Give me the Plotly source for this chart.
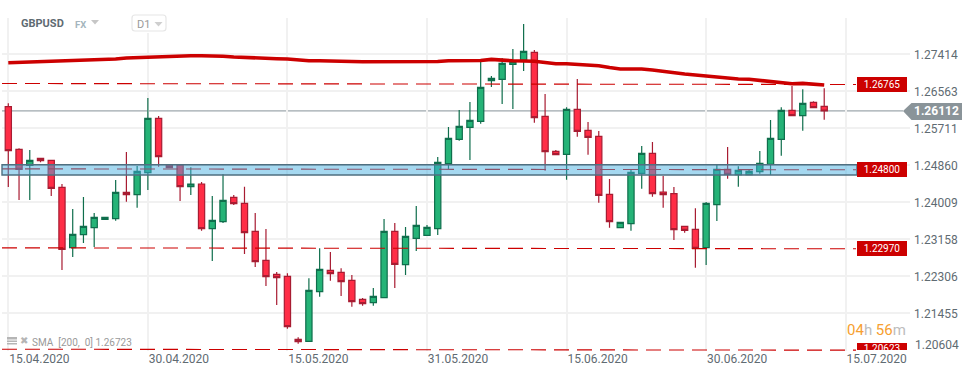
import plotly.graph_objects as go

bar_index = list(range(77))
# direction is implied by open/close
open_ = [1.26209,1.25229,1.24861,1.25022,1.24976,1.24355,1.22966,1.23265,1.23426,1.23619,1.23633,1.2424,1.24185,1.24691,1.25942,1.24868,1.24868,1.24369,1.24431,1.23403,1.23564,1.24125,1.23987,1.23343,1.22676,1.22354,1.22308,1.20859,1.20813,1.21954,1.22446,1.224,1.22216,1.21779,1.21701,1.21816,1.23343,1.22575,1.23182,1.23251,1.23403,1.24898,1.25459,1.25735,1.25873,1.26807,1.26839,1.27184,1.27283,1.2746,1.25988,1.25183,1.25114,1.26149,1.25666,1.25528,1.24194,1.23426,1.23518,1.24677,1.25137,1.24247,1.24208,1.23458,1.23389,1.22966,1.23955,1.24769,1.24645,1.24645,1.24714,1.24884,1.25459,1.26126,1.26002,1.2631,1.26218]
high = [1.26287,1.25252,1.25213,1.25029,1.24983,1.24431,1.23856,1.24132,1.23764,1.23665,1.24523,1.25167,1.24845,1.26409,1.25995,1.24868,1.24868,1.24815,1.24477,1.24155,1.24661,1.24178,1.24369,1.23764,1.23396,1.22407,1.22377,1.20905,1.22262,1.22952,1.22867,1.22492,1.22338,1.21809,1.22039,1.23626,1.23534,1.23442,1.23925,1.23488,1.25052,1.25742,1.26133,1.26317,1.27244,1.26915,1.27329,1.27536,1.28111,1.27513,1.26501,1.25213,1.26195,1.26846,1.25857,1.2565,1.24546,1.2355,1.24753,1.25305,1.25397,1.24615,1.24362,1.23458,1.23872,1.24017,1.24868,1.25282,1.24838,1.24753,1.2519,1.25903,1.26195,1.26685,1.26609,1.26333,1.26632]
low = [1.24362,1.24063,1.24063,1.2493,1.24155,1.22453,1.22752,1.23074,1.22982,1.23619,1.23587,1.24024,1.23886,1.24293,1.24829,1.24806,1.2404,1.24178,1.23357,1.2266,1.23534,1.23948,1.22821,1.22522,1.22085,1.21648,1.21103,1.20758,1.20813,1.21839,1.22207,1.21855,1.21609,1.21632,1.21632,1.21816,1.22039,1.22338,1.2289,1.23251,1.23258,1.24776,1.25427,1.24983,1.25818,1.26662,1.26271,1.26156,1.2703,1.25841,1.24737,1.25105,1.2453,1.25519,1.25105,1.24001,1.23426,1.23426,1.23357,1.24323,1.24139,1.23886,1.23143,1.23311,1.22506,1.22568,1.2358,1.24553,1.24369,1.24645,1.24668,1.24638,1.25082,1.26002,1.25657,1.26186,1.2591]
close = [1.25197,1.24769,1.24976,1.24967,1.24332,1.22929,1.23274,1.23458,1.23665,1.23665,1.2424,1.24185,1.24723,1.25942,1.25059,1.24806,1.24369,1.24431,1.23403,1.23596,1.24056,1.23978,1.23311,1.22644,1.22299,1.22276,1.21149,1.20804,1.21986,1.22469,1.22368,1.22184,1.21724,1.21678,1.21848,1.23343,1.22584,1.23228,1.23481,1.23435,1.2493,1.25482,1.25758,1.25896,1.26655,1.26862,1.27207,1.27244,1.27483,1.25956,1.25174,1.25105,1.26149,1.25643,1.25505,1.24171,1.23564,1.2355,1.247,1.25137,1.24208,1.24185,1.2338,1.23366,1.22952,1.23987,1.24769,1.24654,1.24746,1.24723,1.24907,1.25482,1.26126,1.26002,1.26287,1.26186,1.2611]
sma_200 = [1.27221,1.2723,1.27244,1.27244,1.27244,1.2726,1.27265,1.27271,1.27283,1.27294,1.27306,1.27329,1.2734,1.27352,1.27357,1.27361,1.2738,1.27382,1.27382,1.27382,1.27368,1.27352,1.27347,1.27343,1.27329,1.27313,1.27306,1.27283,1.27267,1.27267,1.27267,1.2726,1.27248,1.27244,1.27244,1.27244,1.27244,1.27244,1.27244,1.27244,1.27248,1.27267,1.27267,1.27267,1.27271,1.27297,1.27271,1.27265,1.2726,1.27253,1.27225,1.27198,1.27198,1.27179,1.27152,1.27152,1.2711,1.27076,1.27076,1.27076,1.27053,1.27018,1.26984,1.26961,1.26938,1.26915,1.26892,1.26857,1.26846,1.26839,1.26811,1.26777,1.26754,1.26738,1.26745,1.26731,1.26708]

price_ticks = [1.27414,1.26563,1.25711,1.24860,1.24009,1.23158,1.22306,1.21455,1.20604]
price_labels = ["1.27414","1.26563","1.25711","1.24860","1.24009","1.23158","1.22306","1.21455",""]
date_ticks = [0,13,26,39,52,65,78]
date_labels = ["15.04.2020","30.04.2020","15.05.2020","31.05.2020","15.06.2020","30.06.2020","15.07.2020"]

level_plot = [1.26731,1.24769,1.22952,1.20620]
level_labels = ["1.26765","1.24800","1.22970","1.20623"]
zone_top, zone_bottom = 1.24875, 1.24638
last_price = 1.26112

W, H = 974, 375
L, R, T, B = 2, 910, 18, 351
def px(x): return (x - L) / (R - L)
def py(y): return (B - y) / (B - T)

RED = "#cc0000"
FONT = "Roboto"
TXT = "#5f6b72"

fig = go.Figure()
fig.add_trace(go.Candlestick(
    x=bar_index, open=open_, high=high, low=low, close=close,
    increasing=dict(line=dict(color="#0f6e4c", width=1.2), fillcolor="#25b377"),
    decreasing=dict(line=dict(color="#a81c32", width=1.2), fillcolor="#ff2d46"),
    whiskerwidth=0, hoverinfo="skip", showlegend=False))
fig.add_trace(go.Scatter(
    x=bar_index, y=sma_200, mode="lines", line=dict(color=RED, width=3.6),
    hoverinfo="skip", showlegend=False))

shapes = []
# last price line, below the candles
shapes.append(dict(type="line", xref="paper", yref="y", layer="below", x0=0, x1=px(903),
                   y0=last_price, y1=last_price, line=dict(color="#869299", width=1)))
# dashed levels, very slightly tilted
for lv in level_plot:
    shapes.append(dict(type="line", xref="paper", yref="y", layer="above", x0=0, x1=px(856),
                       y0=lv + 0.00011, y1=lv - 0.00011,
                       line=dict(color=RED, width=1.1, dash="15px,8px")))
# support zone, over the candles and the dashed level
shapes.append(dict(type="rect", xref="paper", yref="y", layer="above", x0=0, x1=px(857),
                   y0=zone_bottom, y1=zone_top, fillcolor="rgba(67,173,223,0.48)",
                   line=dict(color="#4f6f80", width=1.4)))
# last price tag
d = (f"M {px(903)} {py(111)} L {px(911.5)} {py(103)} L {px(962)} {py(103)} "
     f"L {px(962)} {py(120)} L {px(911.5)} {py(120)} Z")
shapes.append(dict(type="path", xref="paper", yref="paper", layer="above", path=d,
                   fillcolor="#8a9499", line=dict(width=0)))
# header backdrop, timeframe box and arrows
shapes.append(dict(type="rect", xref="paper", yref="paper", layer="above",
                   x0=px(128), x1=px(170), y0=py(33), y1=py(14), fillcolor="white", line=dict(width=0)))
x0, x1, y0, y1, r = px(132), px(166), py(15), py(31), 3
rx, ry = r / (R - L), r / (B - T)
box = (f"M {x0+rx} {y0} L {x1-rx} {y0} Q {x1} {y0} {x1} {y0-ry} L {x1} {y1+ry} Q {x1} {y1} {x1-rx} {y1} "
       f"L {x0+rx} {y1} Q {x0} {y1} {x0} {y1+ry} L {x0} {y0-ry} Q {x0} {y0} {x0+rx} {y0} Z")
shapes.append(dict(type="path", xref="paper", yref="paper", layer="above", path=box,
                   line=dict(color="#e6e6e6", width=1.2), fillcolor="white"))
for ax, ay, c in [(95, 20, "#c6c6c6"), (158.5, 22, "#cfcfcf")]:
    tri = f"M {px(ax-4)} {py(ay)} L {px(ax+4)} {py(ay)} L {px(ax)} {py(ay+4.5)} Z"
    shapes.append(dict(type="path", xref="paper", yref="paper", layer="above", path=tri,
                       fillcolor=c, line=dict(width=0)))
# indicator icon
for ty, th in [(337, 2.5), (340.5, 1.5), (343, 1.5)]:
    shapes.append(dict(type="rect", xref="paper", yref="paper", layer="above",
                       x0=px(7), x1=px(17), y0=py(ty + th), y1=py(ty), fillcolor="#b5b5b5", line=dict(width=0)))

ann = []
def text(x, y, s, size=12, color=TXT, anchor="left", bold=False, **kw):
    if bold:
        s = f"<b>{s}</b>"
    ann.append(dict(xref="paper", yref="paper", x=px(x), y=py(y), text=s, showarrow=False,
                    xanchor=anchor, yanchor="middle", font=dict(family=FONT, size=size, color=color),
                    borderpad=0, borderwidth=0, **kw))

text(21, 23, "GBPUSD", 11, TXT, bold=True)
text(75, 24, "FX", 9.5, "#a5b5bd", bold=True)
text(137, 24, "D1", 11, "#9a9a9a")
text(20, 340, "✖", 9.5, "#b5b5b5")
text(32, 342.5, "SMA&nbsp;&nbsp;[200,&nbsp;&nbsp;0]&nbsp;1.26723", 10, "#9a9a9a")
text(906, 330, '<span style="color:#f7a030">04</span>h&nbsp;<span style="color:#f7a030">56</span>m',
     15, "#bdbdbd", anchor="right")
text(936.5, 111.5, "1.26112", 12, "white", anchor="center", bold=True)
text(915, 345, "1.20604", 12, TXT)

tag_pos = [84.3, 169, 248.3]
for lab, y in zip(level_labels[:3], tag_pos):
    text(881.5, y, lab, 10, "white", anchor="center", bgcolor=RED, width=50, height=15)
ann.append(dict(xref="paper", yref="paper", x=px(881.5), y=py(343.3), text=level_labels[3], showarrow=False,
                xanchor="center", yanchor="top", valign="top", bgcolor=RED, width=50, height=7,
                borderpad=0, borderwidth=0, font=dict(family=FONT, size=10, color="white")))

fig.update_layout(
    width=W, height=H, autosize=False,
    margin=dict(l=L, r=W - R, t=T, b=H - B, pad=0),
    paper_bgcolor="white", plot_bgcolor="white",
    showlegend=False, boxgap=0.42, boxgroupgap=0, boxmode="group",
    shapes=shapes, annotations=ann,
    xaxis=dict(range=[-0.587, 83.99], rangeslider=dict(visible=False), tickmode="array",
               tickvals=date_ticks, ticktext=date_labels, ticklabelshift=31, ticklabelstandoff=-1,
               tickfont=dict(family=FONT, size=12, color=TXT), showgrid=True,
               gridcolor="#f1f1f1", gridwidth=1.5, zeroline=False, showline=False, ticks=""),
    yaxis=dict(range=[1.20590, 1.28249], side="right", tickmode="array",
               tickvals=price_ticks, ticktext=price_labels, ticklabelstandoff=3,
               tickfont=dict(family=FONT, size=12, color=TXT), showgrid=True,
               gridcolor="#f1f1f1", gridwidth=1.5, zeroline=False, showline=False, ticks=""),
)
fig.write_html("out.html", config=dict(displayModeBar=False),
               post_script="document.body.style.margin='0';document.body.style.overflow='hidden';")
